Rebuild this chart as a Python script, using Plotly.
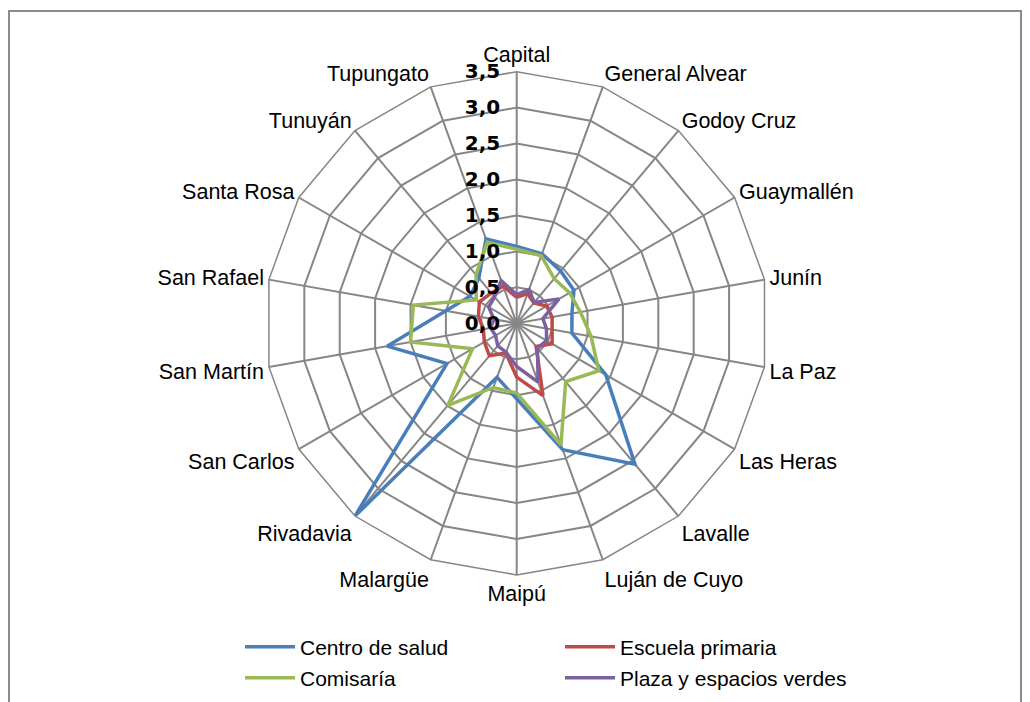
import plotly.graph_objects as go

departamentos = ["Capital", "General Alvear", "Godoy Cruz", "Guaymallén", "Junín", "La Paz",
                 "Las Heras", "Lavalle", "Luján de Cuyo", "Maipú", "Malargüe", "Rivadavia",
                 "San Carlos", "San Martín", "San Rafael", "Santa Rosa", "Tunuyán", "Tupungato"]

centro_salud = [1.07, 1.03, 0.95, 0.92, 0.78, 0.78, 1.43, 2.56, 1.87, 1.05, 0.80, 3.50,
                1.12, 1.83, 1.00, 0.75, 0.82, 1.25]
escuela_primaria = [0.36, 0.44, 0.37, 0.48, 0.50, 0.50, 0.57, 0.42, 1.07, 0.75, 0.44, 0.59,
                    0.52, 0.47, 0.54, 0.60, 0.55, 0.55]
comisaria = [1.03, 1.00, 0.81, 0.85, 0.90, 1.05, 1.32, 1.06, 1.80, 0.97, 0.95, 1.49,
             0.71, 1.50, 1.46, 0.65, 0.88, 1.20]
plaza = [0.40, 0.50, 0.38, 0.68, 0.37, 0.42, 0.48, 0.45, 0.87, 0.60, 0.43, 0.41,
         0.34, 0.37, 0.32, 0.45, 0.48, 0.63]

series = [
    ("Centro de salud", centro_salud, "#4A7EBB", "legend"),
    ("Escuela primaria", escuela_primaria, "#BE4B48", "legend"),
    ("Comisaría", comisaria, "#98B954", "legend2"),
    ("Plaza y espacios verdes", plaza, "#7D60A0", "legend2"),
]

fig = go.Figure()
for nombre, valores, color, leg in series:
    fig.add_trace(go.Scatterpolar(
        r=valores + valores[:1],
        theta=departamentos + departamentos[:1],
        mode="lines",
        name=nombre,
        line=dict(color=color, width=3.5),
        legend=leg,
    ))

# the page puts the figure 8px in from the top-left corner
W, H = 1030, 702
cx, cy, R = 508.7, 315.3, 251.6

leyenda = dict(orientation="h", xanchor="left", yanchor="middle",
               entrywidth=255, entrywidthmode="pixels", itemwidth=50,
               font=dict(size=21), bgcolor="rgba(0,0,0,0)")

fig.update_layout(
    width=W, height=H,
    margin=dict(l=0, r=0, t=0, b=0),
    paper_bgcolor="white",
    separators=",.",
    font=dict(family="Liberation Sans, Arial, sans-serif", size=21, color="black"),
    polar=dict(
        domain=dict(x=[(cx - R) / W, (cx + R) / W], y=[1 - (cy + R) / H, 1 - (cy - R) / H]),
        bgcolor="white",
        gridshape="linear",
        angularaxis=dict(
            direction="clockwise", rotation=90,
            linecolor="#868686", linewidth=1.5,
            gridcolor="#868686", gridwidth=1.5,
            tickfont=dict(size=21.5),
            ticks="",
        ),
        radialaxis=dict(
            range=[0, 3.5], dtick=0.5, tickformat=".1f",
            angle=90, tickangle=90, side="counterclockwise",
            showline=False,
            gridcolor="#868686", gridwidth=1.5,
            tickfont=dict(family="DejaVu Sans, sans-serif", size=20, weight="bold"),
            ticks="outside", ticklen=9, tickcolor="rgba(0,0,0,0)",
        ),
    ),
    legend=dict(leyenda, x=232 / W, y=1 - 639 / H),
    legend2=dict(leyenda, x=232 / W, y=1 - 670 / H),
    shapes=[dict(type="rect", xref="paper", yref="paper",
                 x0=1 / W, x1=1013 / W, y0=-0.1, y1=1 - 3 / H,
                 line=dict(color="#8C8C8C", width=2))],
)

fig.write_html("out.html")
